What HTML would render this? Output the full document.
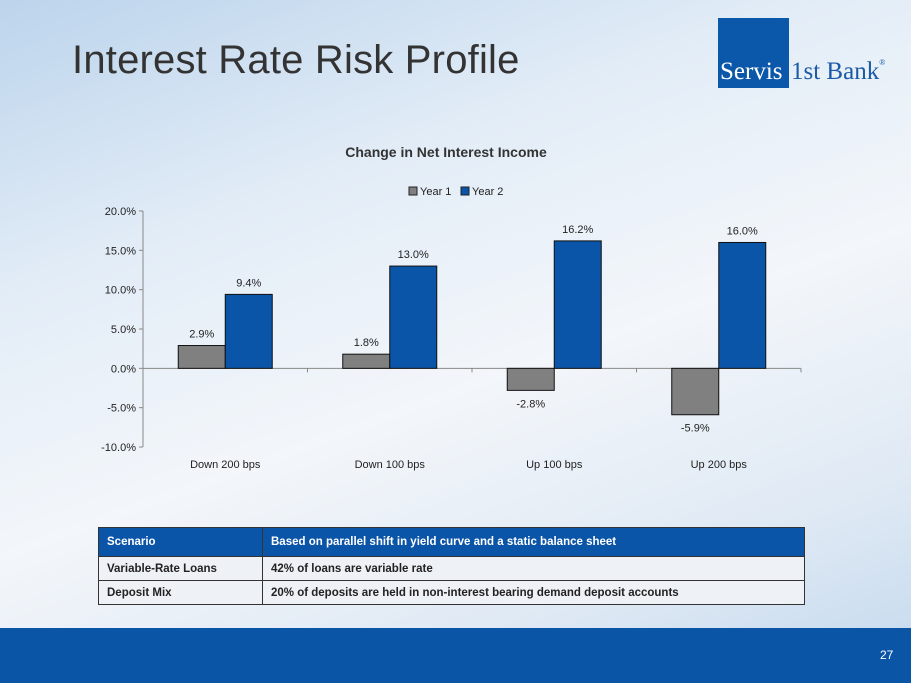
<!DOCTYPE html>
<html><head><meta charset="utf-8"><style>
body{margin:0;width:911px;height:683px;overflow:hidden;font-family:"Liberation Sans",sans-serif;position:relative;
background:linear-gradient(160deg,#bcd4ec 0%,#e3edf7 30%,#f3f6fa 55%,#dfe9f4 80%,#c2d8ee 100%);}
.title{position:absolute;left:72px;top:38px;font-size:40px;color:#333;letter-spacing:0.2px}
table{position:absolute;left:98px;top:527px;width:707px;border-collapse:collapse;font-size:11.5px;font-weight:bold;color:#222}
td{border:1px solid #333;padding:0 8px;height:23px;background:#eef2f7}
tr.h td{background:#0b55a8;color:#fff;height:28px}
.footer{position:absolute;left:0;top:628px;width:911px;height:55px;background:#0a55a6}
</style></head><body>
<div class="title">Interest Rate Risk Profile</div>
<div style="position:absolute;left:718px;top:18px;width:71px;height:70px;background:#0b57a9"></div>
<div style="position:absolute;left:720px;top:58px;font-family:'Liberation Serif',serif;font-size:25px;color:#fff">Servis</div>
<div style="position:absolute;left:791px;top:58px;font-family:'Liberation Serif',serif;font-size:25px;color:#1a5aa6;white-space:nowrap">1st Bank<span style="font-size:8px;vertical-align:top">®</span></div>
<svg id="chart" width="911" height="683" style="position:absolute;left:0;top:0"></svg>
<table>
<tr class="h"><td style="width:147px">Scenario</td><td>Based on parallel shift in yield curve and a static balance sheet</td></tr>
<tr><td>Variable-Rate Loans</td><td>42% of loans are variable rate</td></tr>
<tr><td>Deposit Mix</td><td>20% of deposits are held in non-interest bearing demand deposit accounts</td></tr>
</table>
<div class="footer"></div>
<div style="position:absolute;left:880px;top:648px;color:#fff;font-size:12px">27</div>
<script>
const categories=["Down 200 bps","Down 100 bps","Up 100 bps","Up 200 bps"];
const year1=[2.9,1.8,-2.8,-5.9];
const year2=[9.4,13.0,16.2,16.0];
const yTicks=[20,15,10,5,0,-5,-10];
const NS="http://www.w3.org/2000/svg";
const svg=document.getElementById('chart');
const x0=143,x1=801,yTop=211,yBot=447;
const y=v=>yTop+(20-v)/30*(yBot-yTop);
const band=(x1-x0)/categories.length;
function mk(t,a,txt){const e=document.createElementNS(NS,t);for(const k in a)e.setAttribute(k,a[k]);if(txt!==undefined)e.textContent=txt;svg.appendChild(e);return e;}
let e=mk('text',{x:446,y:157,'text-anchor':'middle','font-size':14,'font-weight':'bold',fill:'#333'},'Change in Net Interest Income');


e=mk('rect',{x:409,y:187,width:8,height:8,fill:'#808080',stroke:'#222'});


mk('text',{x:420,y:195,'font-size':11,fill:'#222'},'Year 1');
e=mk('rect',{x:461,y:187,width:8,height:8,fill:'#0b55a8',stroke:'#222'});


mk('text',{x:472,y:195,'font-size':11,fill:'#222'},'Year 2');
mk('line',{x1:x0,y1:yTop,x2:x0,y2:yBot,stroke:'#888'});
yTicks.forEach(t=>{mk('line',{x1:x0-4,y1:y(t),x2:x0,y2:y(t),stroke:'#888'});
 e=mk('text',{x:x0-7,y:y(t)+4,'text-anchor':'end','font-size':11,fill:'#222'},t.toFixed(1)+'%');
 
 });
mk('line',{x1:x0,y1:y(0),x2:x1,y2:y(0),stroke:'#888'});
for(let i=0;i<=categories.length;i++)mk('line',{x1:x0+i*band,y1:y(0),x2:x0+i*band,y2:y(0)+4,stroke:'#888'});
const bw=47;
categories.forEach((c,i)=>{const cx=x0+band*(i+0.5);
 e=mk('text',{x:cx,y:468,'text-anchor':'middle','font-size':11,fill:'#222'},c);
 
 
 [[year1[i],'#808080',cx-bw],[year2[i],'#0b55a8',cx]].forEach(([v,col,bx],s)=>{
  const top=Math.min(y(v),y(0)),h=Math.abs(y(v)-y(0));
  e=mk('rect',{x:bx,y:top,width:bw,height:h,fill:col,stroke:'#111','stroke-width':1});
  
  
  const ly=v>=0?y(v)-8:y(v)+17;
  e=mk('text',{x:bx+bw/2,y:ly,'text-anchor':'middle','font-size':11,fill:'#222'},v.toFixed(1)+'%');
  
  
 });
});
</script>
</body></html>
